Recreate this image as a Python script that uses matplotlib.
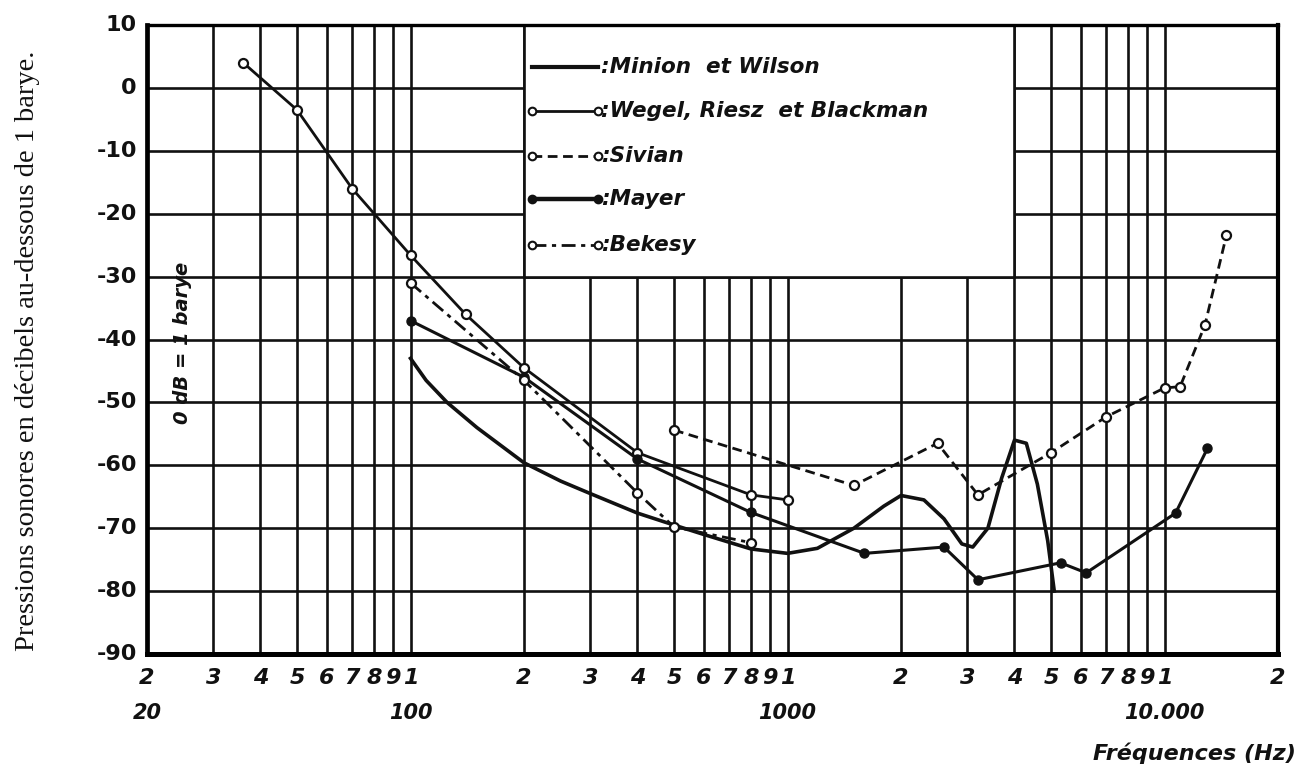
import matplotlib
matplotlib.use("Agg")
import matplotlib.pyplot as plt
from matplotlib.patches import Rectangle
from matplotlib.ticker import NullLocator
import matplotlib.transforms as mtransforms

# Hearing thresholds (dB re 1 barye) versus frequency (Hz)
minion_f = [100, 110, 125, 150, 200, 250, 300, 400, 500, 600, 800, 1000,
            1200, 1500, 1800, 2000, 2300, 2600, 2900, 3100, 3400, 3700,
            4000, 4300, 4600, 4900, 5100]
minion_db = [-43, -46.5, -50, -54, -59.6, -62.5, -64.5, -67.6, -69.5, -71,
             -73.3, -74, -73.2, -70, -66.5, -64.8, -65.5, -68.5, -72.5, -73,
             -70, -62, -56, -56.5, -63, -72, -80]

wegel_f = [36, 50, 70, 100, 140, 200, 400, 800, 1000]
wegel_db = [4, -3.5, -16, -26.6, -36, -44.5, -58, -64.7, -65.5]

sivian_f = [500, 1500, 2500, 3200, 5000, 7000, 10000, 11000, 12800, 14600]
sivian_db = [-54.4, -63.2, -56.5, -64.7, -58, -52.3, -47.7, -47.5, -37.7, -23.4]

mayer_f = [100, 200, 400, 800, 1600, 2600, 3200, 5300, 6200, 10700, 13000]
mayer_db = [-37, -46, -59, -67.5, -74, -73, -78.2, -75.5, -77.1, -67.6, -57.3]

bekesy_f = [100, 200, 400, 500, 800]
bekesy_db = [-31, -46.5, -64.4, -69.8, -72.3]

# Axis graduations
grid_freqs = [d * 10 ** k for k in (1, 2, 3) for d in range(1, 10)
              if 20 <= d * 10 ** k] + [10000, 20000]
decade_freqs = [20, 100, 1000, 10000]
decade_labels = ["20", "100", "1000", "10.000"]
db_levels = list(range(-90, 11, 10))

legend_names = ["Minion  et Wilson", "Wegel, Riesz  et Blackman", "Sivian",
                "Mayer", "Bekesy"]

W, H = 1297, 766
fig = plt.figure(figsize=(W / 100, H / 100), dpi=100)
fig.patch.set_facecolor("white")
ax = fig.add_axes([147 / W, 1 - 654 / H, 1131 / W, 629 / H])
ax.set_xscale("log")
ax.set_xlim(20, 20000)
ax.set_ylim(-90, 10)
for axis in (ax.xaxis, ax.yaxis):
    axis.set_major_locator(NullLocator())
    axis.set_minor_locator(NullLocator())
for side, lw in (("left", 3.4), ("bottom", 3.6), ("top", 2.4), ("right", 3.0)):
    ax.spines[side].set_linewidth(lw)
    ax.spines[side].set_color("black")
    ax.spines[side].set_zorder(6)

ink = "#111111"

# Log paper grid
for f in grid_freqs:
    ax.axvline(f, color=ink, lw=1.9, zorder=1)
for y in db_levels[1:-1]:
    ax.axhline(y, color=ink, lw=1.9, zorder=1)

# Blank panel carrying the key
ax.add_patch(Rectangle((200, -30), 4000 - 200, 40, facecolor="white",
                       edgecolor="none", zorder=1.5))
ax.plot([200, 200], [-30, 10], color=ink, lw=1.9, zorder=1.6)
ax.plot([4000, 4000], [-30, 10], color=ink, lw=1.9, zorder=1.6)
ax.plot([200, 4000], [-30, -30], color=ink, lw=1.9, zorder=1.6)

# Curves
ax.plot(minion_f, minion_db, color=ink, lw=2.6, zorder=4,
        solid_joinstyle="round")
ax.plot(wegel_f, wegel_db, color=ink, lw=2.0, marker="o", ms=6.5,
        mfc="white", mec=ink, mew=1.6, zorder=5)
ax.plot(sivian_f, sivian_db, color=ink, lw=2.0, ls=(0, (3.5, 2)),
        marker="o", ms=6.5, mfc="white", mec=ink, mew=1.6, zorder=5)
ax.plot(mayer_f, mayer_db, color=ink, lw=2.2, marker="o", ms=6.5,
        mfc=ink, mec=ink, zorder=5)
ax.plot(bekesy_f, bekesy_db, color=ink, lw=2.0, ls=(0, (5, 2, 1.5, 2)),
        marker="o", ms=6.5, mfc="white", mec=ink, mew=1.6, zorder=5)

# Key
x0, x1 = (532 - 147) / 1131, (598 - 147) / 1131
rows = [1 - (py - 25) / 629 for py in (67, 111, 156, 199, 245)]
styles = [
    dict(lw=3.0, marker=None),
    dict(lw=2.0, marker="o", mfc="white"),
    dict(lw=2.0, ls=(0, (3.5, 2)), marker="o", mfc="white"),
    dict(lw=3.2, marker="o", mfc=ink),
    dict(lw=2.0, ls=(0, (5, 2, 1.5, 2)), marker="o", mfc="white"),
]
for yr, st, name in zip(rows, styles, legend_names):
    ax.plot([x0, x1], [yr, yr], transform=ax.transAxes, color=ink, ms=5.5,
            mec=ink, mew=1.5, zorder=3, clip_on=False, **st)
    ax.text(x1 + 0.003, yr, ":" + name, transform=ax.transAxes,
            ha="left", va="center", fontsize=15.5, style="italic",
            fontweight="bold", color=ink, zorder=3)

# Graduation labels
ytrans = mtransforms.blended_transform_factory(ax.transAxes, ax.transData)
for y in db_levels:
    ax.text(-0.009, y, str(y), transform=ytrans, ha="right", va="center",
            fontsize=16, fontweight="bold", color=ink)

xtrans = mtransforms.blended_transform_factory(ax.transData, ax.transAxes)
for f in grid_freqs:
    digit = str(f)[0]
    ax.text(f, -0.038, digit, transform=xtrans, ha="center", va="center",
            fontsize=16, style="italic", fontweight="bold", color=ink)
for f, lab in zip(decade_freqs, decade_labels):
    ax.text(f, -0.094, lab, transform=xtrans, ha="center", va="center",
            fontsize=15, style="italic", fontweight="bold", color=ink)

ax.text(0.031, -40.5, "0 dB = 1 barye", transform=ytrans, rotation=90,
        ha="center", va="center", fontsize=14, fontweight="bold",
        style="italic", color=ink)

fig.text(0.999, 1 - 753 / H, "Fréquences (Hz)", ha="right", va="center",
         fontsize=16, style="italic", fontweight="bold", color=ink)
fig.text(28 / W, 1 - 351 / H,
         "Pressions sonores en décibels au-dessous de 1 barye.",
         rotation=90, ha="center", va="center", fontsize=20.5,
         family="Liberation Serif", color=ink)

fig.savefig("out.png", dpi=100, facecolor="white")
